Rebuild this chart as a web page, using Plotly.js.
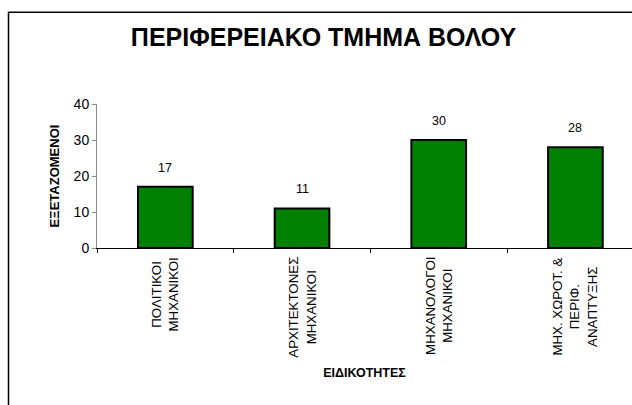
<!DOCTYPE html>
<html>
<head>
<meta charset="utf-8">
<script src="https://cdn.plot.ly/plotly-3.0.1.min.js"></script>
<style>html,body{margin:0;padding:0;background:#fff;overflow:hidden;}</style>
</head>
<body>
<div id="chart" style="width:632px;height:405px;"></div>
<script>
const categories = ["ΠΟΛΙΤΙΚΟΙ<br>ΜΗΧΑΝΙΚΟΙ", "ΑΡΧΙΤΕΚΤΟΝΕΣ<br>ΜΗΧΑΝΙΚΟΙ", "ΜΗΧΑΝΟΛΟΓΟΙ<br>ΜΗΧΑΝΙΚΟΙ", "ΜΗΧ. ΧΩΡΟΤ. &<br>ΠΕΡΙΦ.<br>ΑΝΑΠΤΥΞΗΣ"];
const values = [17, 11, 30, 28];
const yTicks = [0, 10, 20, 30, 40];

const FONT = "Liberation Sans, Arial, sans-serif";

const trace = {
  type: "bar",
  x: categories,
  y: values,
  marker: {color: "#008000", line: {color: "#000000", width: 2}},
  hoverinfo: "none"
};

const valueLabels = categories.map((c, i) => ({
  x: c, y: values[i], xref: "x", yref: "y",
  text: String(values[i]), showarrow: false,
  yanchor: "middle", yshift: 19,
  font: {family: FONT, size: 12.5, color: "#000"}
}));

const categoryLabels = categories.map((c) => ({
  x: c, xref: "x", y: -0.05, yref: "paper",
  text: c, showarrow: false, textangle: -90,
  xanchor: "center", yanchor: "top", align: "center",
  font: {family: FONT, size: 13.3, color: "#000"}
}));

const layout = {
  width: 632, height: 405,
  margin: {l: 97, r: 0, t: 104, b: 157},
  paper_bgcolor: "#ffffff", plot_bgcolor: "#ffffff",
  showlegend: false,
  bargap: 0.6,
  font: {family: FONT, color: "#000"},
  title: {
    text: "<b>ΠΕΡΙΦΕΡΕΙΑΚΟ ΤΜΗΜΑ ΒΟΛΟΥ</b>",
    font: {family: FONT, size: 25, color: "#000"},
    xref: "container", x: 0.512, xanchor: "center",
    yref: "container", y: 0.907, yanchor: "middle"
  },
  xaxis: {
    type: "category",
    range: [-0.5, 3.414],
    showline: true, linecolor: "#000", linewidth: 1,
    ticks: "outside", tickson: "boundaries", ticklen: 4, tickcolor: "#000",
    showticklabels: false,
    showgrid: false, zeroline: false, automargin: false,
    title: {text: "<b>ΕΙΔΙΚΟΤΗΤΕΣ</b>", font: {family: FONT, size: 12.5, color: "#000"}, standoff: 120}
  },
  yaxis: {
    range: [0, 40],
    tickvals: yTicks,
    showline: true, linecolor: "#888", linewidth: 1,
    ticks: "outside", ticklen: 4, tickcolor: "#888",
    tickfont: {family: FONT, size: 14, color: "#000"},
    showgrid: false, zeroline: false, automargin: false,
    title: {text: "<b>ΕΞΕΤΑΖΟΜΕΝΟΙ</b>", font: {family: FONT, size: 13, color: "#000"}, standoff: 11}
  },
  annotations: valueLabels.concat(categoryLabels),
  shapes: [{
    type: "rect", xref: "paper", yref: "paper",
    x0: (8.5 - 97) / 535, x1: 1.03,
    y0: -1.2, y1: (248.3 - 12.5) / 144,
    line: {color: "#000", width: 1.5}, fillcolor: "rgba(0,0,0,0)", layer: "below"
  }]
};

Plotly.newPlot("chart", [trace], layout, {displayModeBar: false, staticPlot: true});
</script>
</body>
</html>
